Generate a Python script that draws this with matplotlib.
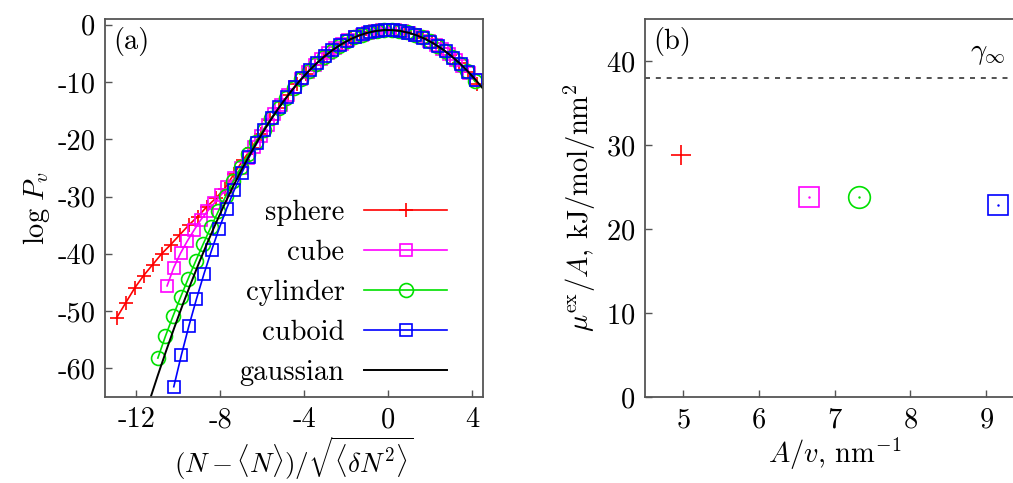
# Two-panel figure: (a) log probability of cavity occupation for
# different probe shapes vs gaussian, (b) excess chemical potential
# per area vs area/volume ratio.

import numpy as np
import matplotlib
matplotlib.use('Agg')
import matplotlib.pyplot as plt
from matplotlib.ticker import FormatStrFormatter

plt.rcParams['font.family'] = 'serif'
plt.rcParams['font.serif'] = ['cmr10', 'DejaVu Serif']
plt.rcParams['mathtext.fontset'] = 'cm'
plt.rcParams['axes.unicode_minus'] = False
plt.rcParams['axes.formatter.use_mathtext'] = True

col_sph = '#ff0000'
col_cube = '#ff00ff'
col_cyl = '#00e000'
col_cub = '#0000ff'

# ---- Panel (a) data
x_sphere = [-12.95, -12.52, -12.09, -11.66, -11.23, -10.80, -10.37, -9.94,
            -9.51, -9.08, -8.65, -8.22, -7.79, -7.36, -6.93, -6.50, -6.07,
            -5.64, -5.21, -4.78, -4.35, -3.92, -3.49, -3.06, -2.63, -2.20,
            -1.77, -1.34, -0.91, -0.48, -0.05, 0.38, 0.81, 1.24, 1.67, 2.10,
            2.53, 2.96, 3.39, 3.82, 4.25]
y_sphere = [-51.2, -48.6, -46.0, -43.8, -41.9, -40.0, -38.4, -36.7,
            -35.0, -33.5, -31.8, -30.3, -28.6, -26.1, -23.7, -21.45, -19.0,
            -16.7, -14.49, -12.34, -10.38, -8.60, -7.01, -5.60, -4.38, -3.34,
            -2.49, -1.82, -1.33, -1.04, -0.92, -0.99, -1.25, -1.69, -2.31, -3.13,
            -4.12, -5.30, -6.67, -8.22, -10.3]

x_cube = [-10.54, -10.22, -9.90, -9.58, -9.26, -8.94, -8.62, -8.30, -7.98,
          -7.66, -7.34, -7.02, -6.70, -6.38, -6.06, -5.74, -5.42, -5.10,
          -4.78, -4.46, -4.14, -3.82, -3.50, -3.18, -2.86, -2.54, -2.22,
          -1.90, -1.58, -1.26, -0.94, -0.62, -0.30, 0.02, 0.34, 0.66, 0.98,
          1.30, 1.62, 1.94, 2.26, 2.58, 2.90, 3.22, 3.54, 3.86, 4.18]
y_cube = [-45.6, -42.4, -39.9, -37.8, -35.9, -34.1, -32.6, -31.2, -29.8,
          -28.4, -26.8, -25.1, -23.3, -21.4, -19.5, -17.5, -15.6, -13.93,
          -12.34, -10.87, -9.49, -8.22, -7.05, -5.98, -5.01, -4.15, -3.38,
          -2.73, -2.17, -1.71, -1.36, -1.11, -0.97, -0.92, -0.98, -1.14, -1.40,
          -1.77, -2.23, -2.80, -3.47, -4.25, -5.13, -6.10, -7.19, -8.37, -9.66]

x_cyl = [-10.98, -10.62, -10.26, -9.90, -9.54, -9.18, -8.82, -8.46, -8.10,
         -7.74, -7.38, -7.02, -6.66, -6.30, -5.94, -5.58, -5.22, -4.86,
         -4.50, -4.14, -3.78, -3.42, -3.06, -2.70, -2.34, -1.98, -1.62,
         -1.26, -0.90, -0.54, -0.18, 0.18, 0.54, 0.90, 1.26, 1.62, 1.98,
         2.34, 2.70, 3.06, 3.42, 3.78, 4.14]
y_cyl = [-58.2, -54.4, -50.9, -47.6, -44.4, -41.3, -38.3, -35.4, -32.6,
         -29.9, -27.3, -24.9, -22.6, -20.4, -18.3, -16.35, -14.54, -12.73,
         -11.05, -9.49, -8.06, -6.77, -5.60, -4.57, -3.66, -2.88, -2.23,
         -1.71, -1.33, -1.07, -0.94, -0.94, -1.07, -1.33, -1.71, -2.23, -2.88,
         -3.66, -4.57, -5.60, -6.77, -8.06, -9.9]

x_cuboid = [-10.22, -9.86, -9.50, -9.14, -8.78, -8.42, -8.06, -7.70, -7.34,
            -6.98, -6.62, -6.26, -5.90, -5.54, -5.18, -4.82, -4.46, -4.10,
            -3.74, -3.38, -3.02, -2.66, -2.30, -1.94, -1.58, -1.22, -0.86,
            -0.50, -0.14, 0.22, 0.58, 0.94, 1.30, 1.66, 2.02, 2.38, 2.74,
            3.10, 3.46, 3.82, 4.18]
y_cuboid = [-63.2, -57.7, -52.6, -47.9, -43.5, -39.4, -35.6, -32.1, -28.9,
            -25.9, -23.1, -20.7, -18.33, -16.27, -14.34, -12.54, -10.87, -9.33,
            -7.91, -6.63, -5.48, -4.46, -3.57, -2.80, -2.17, -1.66, -1.29,
            -1.05, -0.93, -0.94, -1.09, -1.36, -1.77, -2.30, -2.96, -3.75, -4.67,
            -5.73, -6.91, -8.22, -9.66]

x_gauss = [-11.4, -11.0, -10.6, -10.2, -9.8, -9.4, -9.0, -8.6, -8.2, -7.8,
           -7.4, -7.0, -6.6, -6.2, -5.8, -5.4, -5.0, -4.6, -4.2, -3.8, -3.4,
           -3.0, -2.6, -2.2, -1.8, -1.4, -1.0, -0.6, -0.2, 0.2, 0.6, 1.0, 1.4,
           1.8, 2.2, 2.6, 3.0, 3.4, 3.8, 4.2, 4.6]
y_gauss = [-65.90, -61.42, -57.10, -52.94, -48.94, -45.10, -41.42, -37.90,
           -34.54, -31.34, -28.30, -25.42, -22.70, -20.14, -17.74, -15.50,
           -13.42, -11.50, -9.74, -8.14, -6.70, -5.42, -4.30, -3.34, -2.54,
           -1.90, -1.42, -1.10, -0.94, -0.94, -1.10, -1.42, -1.90, -2.54,
           -3.34, -4.30, -5.42, -6.70, -8.14, -9.74, -11.50]

# ---- Panel (b) data
shapes = ['sphere', 'cube', 'cylinder', 'cuboid']
A_over_v = [4.98, 6.66, 7.32, 9.16]
mu_over_A = [28.8, 23.8, 23.8, 22.9]
gamma_inf = 38.0

W, H = 1013, 483
fig = plt.figure(figsize=(W / 100, H / 100), dpi=100)
ax1 = fig.add_axes([105 / W, 86 / H, 377.5 / W, 378 / H])
ax2 = fig.add_axes([645 / W, 86 / H, 379 / W, 378 / H])

fs = 20.5
lw = 1.2
ms = 9

# Panel (a)
ax1.plot(x_sphere, y_sphere, color=col_sph, marker='+', ms=ms + 1, mew=lw,
         lw=lw, label='sphere')
ax1.plot(x_cube, y_cube, color=col_cube, marker='s', ms=ms, mew=lw,
         mfc='none', lw=lw, label='cube')
ax1.plot(x_cyl, y_cyl, color=col_cyl, marker='o', ms=ms + 1, mew=lw,
         mfc='none', lw=lw, label='cylinder')
ax1.plot(x_cuboid, y_cuboid, color=col_cub, marker='s', ms=ms, mew=lw,
         mfc='none', lw=lw, label='cuboid')
ax1.plot(x_gauss, y_gauss, color='k', lw=lw + 0.2, label='gaussian')

ax1.set_xlim(-13.5, 4.5)
ax1.set_ylim(-65, 1)
ax1.set_xticks([-12, -8, -4, 0, 4])
ax1.set_yticks([0, -10, -20, -30, -40, -50, -60])
ax1.xaxis.set_major_formatter(FormatStrFormatter('%d'))
ax1.yaxis.set_major_formatter(FormatStrFormatter('%d'))
ax1.set_xlabel(r'$(N-\langle N\rangle)/\sqrt{\langle\delta N^2\rangle}$',
               fontsize=19.5, labelpad=1)
ax1.set_ylabel(r'$\log\,P_v$', fontsize=fs, labelpad=4)
ax1.text(0.022, 0.94, '(a)', transform=ax1.transAxes, fontsize=fs,
         va='center', ha='left')
leg = ax1.legend(loc='lower right', bbox_to_anchor=(0.906, 0.03),
                 markerfirst=False, frameon=False, fontsize=fs,
                 handlelength=2.9, handletextpad=0.7, labelspacing=0.48,
                 borderpad=0, borderaxespad=0)

# Panel (b)
mk = ['+', 's', 'o', 's']
cols = [col_sph, col_cube, col_cyl, col_cub]
sz = [15, 14.4, 15.6, 14.4]
for i in range(len(shapes)):
    ax2.plot(A_over_v[i], mu_over_A[i], ls='none', marker=mk[i], ms=sz[i],
             mew=lw, mfc='none', color=cols[i])
    if mk[i] != '+':
        ax2.plot(A_over_v[i], mu_over_A[i], ls='none', marker='.', ms=1.5,
                 color=cols[i])
ax2.axhline(gamma_inf, color='#333333', lw=1.2, ls=(0, (3, 3.5)))
ax2.text(9.02, gamma_inf + 2.8, r'$\gamma_\infty$', fontsize=fs,
         ha='center', va='center')

ax2.set_xlim(4.5, 9.5)
ax2.set_ylim(0, 45)
ax2.set_xticks([5, 6, 7, 8, 9])
ax2.set_yticks([0, 10, 20, 30, 40])
ax2.set_xlabel(r'$A/v$, nm$^{-1}$', fontsize=fs, labelpad=2)
ax2.set_ylabel(r'$\mu^{\rm ex}/A$, kJ/mol/nm$^2$', fontsize=fs, labelpad=6)
ax2.text(0.022, 0.94, '(b)', transform=ax2.transAxes, fontsize=fs,
         va='center', ha='left')

for ax in (ax1, ax2):
    for s in ax.spines.values():
        s.set_color('#555555')
        s.set_linewidth(1.3)
    ax.tick_params(direction='in', length=5, width=1, color='#555555',
                   labelsize=fs, pad=7, top=False, right=False)

plt.savefig('out.png', dpi=100)
